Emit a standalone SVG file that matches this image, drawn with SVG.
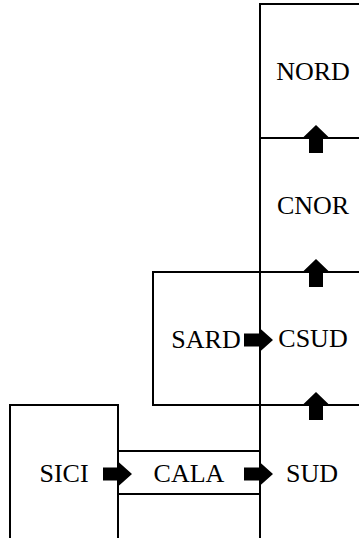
<svg xmlns="http://www.w3.org/2000/svg" xmlns:xlink="http://www.w3.org/1999/xlink" width="359" height="538" viewBox="0 0 359 538">
<style>
.box{fill:none;stroke:#000;stroke-width:2}
.lbl{font-family:"Liberation Serif","Times New Roman",serif;font-size:26px;fill:#000;text-anchor:middle}
.arr{fill:#000;stroke:none}
</style>
<defs>
<path id="up" d="M-13.5,0 L0,-13 L13.5,0 L7,0 L7,15 L-7,15 L-7,0 Z"/>
<path id="right" d="M0,-12.5 L14,0 L0,12.5 L0,6.5 L-15,6.5 L-15,-6.5 L0,-6.5 Z"/>
</defs>
<rect width="359" height="538" fill="#fff"/>
<g id="NORD"><rect class="box" x="260" y="4" width="110" height="134"/><text class="lbl" x="313" y="80">NORD</text></g>
<g id="CNOR"><rect class="box" x="260" y="138" width="110" height="134"/><text class="lbl" x="313" y="214">CNOR</text></g>
<g id="CSUD"><rect class="box" x="260" y="272" width="110" height="133"/><text class="lbl" x="313" y="347">CSUD</text></g>
<g id="SUD"><rect class="box" x="260" y="405" width="110" height="140"/><text class="lbl" x="312" y="482">SUD</text></g>
<g id="SARD"><rect class="box" x="153" y="272" width="107" height="133"/><text class="lbl" x="206" y="348">SARD</text></g>
<g id="SICI"><rect class="box" x="10" y="405" width="108" height="140"/><text class="lbl" x="64" y="482">SICI</text></g>
<g id="CALA"><rect class="box" x="118" y="451" width="142" height="43"/><text class="lbl" x="189" y="482">CALA</text></g>
<g id="connectors" class="arr">
<use xlink:href="#up" x="316" y="138"/>
<use xlink:href="#up" x="316" y="272"/>
<use xlink:href="#up" x="316" y="405"/>
<use xlink:href="#right" x="259" y="340"/>
<use xlink:href="#right" x="118" y="474"/>
<use xlink:href="#right" x="259" y="474"/>
</g>
</svg>
